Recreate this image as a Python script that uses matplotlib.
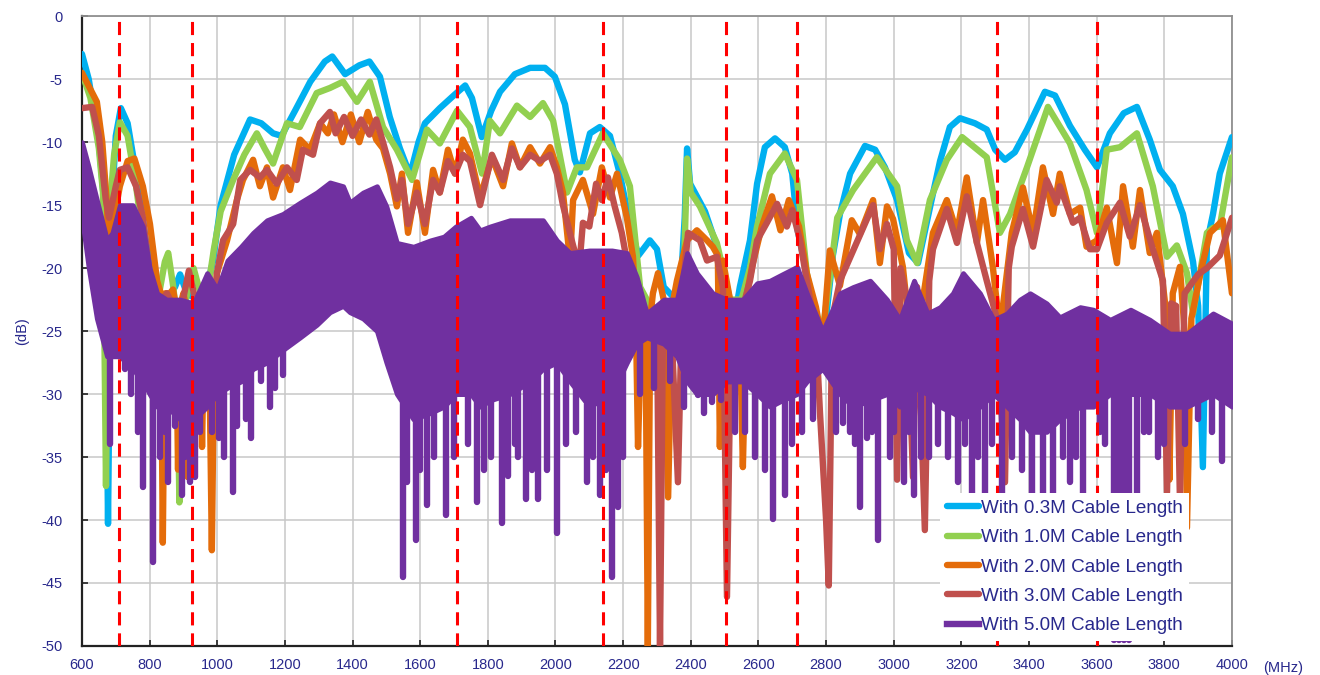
import numpy as np
import matplotlib.pyplot as plt

plt.rcParams['font.family'] = ['Liberation Sans', 'DejaVu Sans']
plt.rcParams['axes.unicode_minus'] = False

# 0.3M cable
f_03 = [600, 620, 650, 668, 677, 686, 700, 715, 735, 760, 790, 820, 850, 875, 890, 910, 940, 965,
        987, 1010, 1050, 1097, 1130, 1165, 1190, 1230, 1275, 1318, 1340, 1378, 1420, 1450, 1481,
        1510, 1540, 1570, 1595, 1614, 1658, 1703, 1733, 1753, 1782, 1810, 1836, 1880, 1925, 1969,
        1998, 2028, 2057, 2072, 2102, 2131, 2161, 2190, 2220, 2245, 2279, 2300, 2320, 2345, 2370,
        2382, 2389, 2398, 2418, 2442, 2471, 2501, 2520, 2545, 2575, 2596, 2619, 2649, 2678, 2700,
        2716, 2735, 2752, 2782, 2800, 2820, 2841, 2871, 2915, 2945, 2974, 3010, 3045, 3072, 3107,
        3137, 3166, 3196, 3240, 3275, 3300, 3329, 3358, 3394, 3447, 3477, 3521, 3565, 3601, 3639,
        3680, 3719, 3757, 3787, 3825, 3855, 3885, 3900, 3914, 3926, 3944, 3964, 4000]
db_03 = [-3, -5, -10, -15.5, -40.3, -16, -9.5, -7.3, -8.5, -12.5, -18, -22, -22.5, -21.5, -20.5, -22,
         -22.5, -22, -19.5, -15, -11, -8.2, -8.5, -9.3, -9.5, -7.5, -5.2, -3.6, -3.2, -4.6, -3.9,
         -3.6, -4.8, -8, -10.5, -12.6, -10, -8.5, -7.3, -6.2, -5.5, -6.5, -9.6, -7.5, -6, -4.6,
         -4.1, -4.1, -4.8, -7, -11.4, -12.4, -9.3, -8.8, -9.5, -12.5, -16.5, -19, -17.8, -18.5,
         -21.5, -22.2, -21.5, -16, -10.5, -13.3, -14.3, -15.5, -17.8, -21.5, -25.5, -21.5, -17.8,
         -13.3, -10.4, -9.7, -10.4, -12.5, -17, -19.4, -22.5, -25, -24, -19, -15.7, -12.5, -10.3,
         -10.6, -12, -14.6, -18.8, -19.6, -15.2, -11.5, -8.8, -8.1, -8.5, -9, -10.6, -11.4, -10.8,
         -9, -6, -6.3, -8.7, -10.6, -12, -9.3, -7.7, -7.2, -9.8, -12.2, -13.5, -15.7, -19.5, -23,
         -35.8, -18, -15.7, -12.5, -9.6]

# 1.0M cable
f_10 = [600, 625, 650, 662, 671, 680, 695, 712, 735, 760, 785, 805, 825, 845, 855, 870, 880, 888,
        896, 915, 930, 945, 965, 990, 1010, 1047, 1080, 1117, 1140, 1165, 1206, 1244, 1294, 1333,
        1372, 1413, 1451, 1490, 1531, 1576, 1620, 1658, 1709, 1747, 1783, 1806, 1836, 1886, 1925,
        1963, 1993, 2034, 2063, 2093, 2140, 2190, 2220, 2250, 2280, 2320, 2360, 2380, 2389, 2400,
        2427, 2477, 2516, 2550, 2575, 2596, 2634, 2678, 2714, 2743, 2770, 2790, 2810, 2833, 2880,
        2950, 3010, 3039, 3069, 3107, 3157, 3202, 3275, 3314, 3344, 3394, 3456, 3521, 3570, 3601,
        3630, 3669, 3719, 3766, 3808, 3837, 3867, 3885, 3926, 3944, 3964, 4000]
db_10 = [-4.5, -6.5, -10.5, -14, -37.3, -16, -11, -8.4, -9.5, -13.5, -18.5, -22, -22.5, -19.5,
         -18.8, -21.5, -24, -38.6, -24, -21.5, -20, -21.5, -23, -18.5, -15.5, -13, -11, -9.3,
         -10.5, -11.7, -8.5, -8.8, -6.1, -5.7, -5.2, -6.8, -5.2, -8.8, -10.6, -13, -9, -10.1, -7.5,
         -8.8, -12.5, -8.3, -9.3, -7.1, -8, -6.9, -8.3, -14, -12, -12, -9.3, -11.4, -13.5, -21.5,
         -23, -23.5, -23, -20, -11.3, -14, -15.1, -18, -22.5, -22.5, -20, -16.7, -12.5, -10.9, -13,
         -20.4, -24, -25, -21, -16, -13.8, -11.2, -13.5, -17.8, -19.6, -14.6, -11.4, -9.6, -11.2,
         -17.2, -15.7, -12, -7.2, -10.1, -13.8, -17.2, -10.6, -10.4, -9.3, -13.5, -19.1, -18.2,
         -20.4, -23.6, -17.2, -16.8, -16.7, -11.2]

# 2.0M cable
f_20 = [600, 625, 644, 660, 674, 683, 695, 712, 735, 755, 780, 801, 822, 833, 839, 846, 860, 869,
        878, 884, 890, 900, 907, 913, 919, 935, 949, 955, 962, 975, 984, 992, 999, 1029, 1058, 1076,
        1106, 1126, 1147, 1165, 1194, 1215, 1245, 1274, 1304, 1327, 1345, 1370, 1395, 1420, 1445,
        1470, 1490, 1511, 1531, 1546, 1564, 1590, 1614, 1638, 1658, 1682, 1703, 1726, 1747, 1777,
        1812, 1845, 1871, 1895, 1925, 1954, 1984, 2004, 2022, 2043, 2052, 2081, 2111, 2137, 2161,
        2182, 2211, 2229, 2237, 2244, 2255, 2266, 2273, 2280, 2288, 2303, 2320, 2333, 2345, 2359,
        2389, 2418, 2448, 2465, 2480, 2486, 2495, 2516, 2545, 2554, 2566, 2581, 2610, 2640, 2665,
        2690, 2720, 2743, 2770, 2790, 2811, 2841, 2876, 2900, 2939, 2959, 2980, 2998, 3027, 3048,
        3077, 3116, 3157, 3187, 3216, 3246, 3264, 3293, 3314, 3349, 3382, 3412, 3441, 3471, 3491,
        3521, 3551, 3570, 3601, 3630, 3660, 3678, 3707, 3728, 3757, 3778, 3808, 3815, 3825, 3846,
        3860, 3867, 3880, 3910, 3935, 3973, 4000]
db_20 = [-4.5, -5.8, -6.8, -10, -15, -22, -16, -13.5, -11.5, -11.3, -13.5, -16.5, -21, -22, -41.8,
         -22, -22, -21.7, -23, -36, -23, -22, -23, -36.6, -23, -22.5, -23.3, -34.2, -23, -24, -42.4,
         -24, -20.4, -17.8, -14.6, -13, -11.4, -13.5, -12, -14.4, -12, -13.8, -9.8, -10.6, -8.5,
         -9.3, -7.8, -10, -7.8, -10, -7.6, -9.8, -10.5, -12.5, -15.1, -12.5, -17.2, -13.2, -17.2,
         -12.2, -14, -10.6, -12.5, -9.8, -10.9, -14.4, -11.2, -13.5, -10.1, -12, -10.4, -11.7,
         -10.4, -12, -14, -19.4, -14.6, -13, -15.7, -12, -14.4, -12.5, -16, -19.1, -23, -34.2,
         -23.3, -24, -50, -24, -22, -20.4, -22.5, -38.2, -23, -21, -17.8, -17, -17.8, -18.3, -19,
         -34.2, -19.4, -22.5, -24.6, -35.8, -22, -19.9, -16.7, -14.3, -17, -14.6, -16.7, -20.4,
         -23.1, -26, -18.6, -21.4, -16.2, -17.3, -14.6, -19.6, -15.1, -16.1, -19.9, -25.2, -24.1,
         -17.2, -14.6, -17.2, -12.8, -18, -14.6, -19.9, -25, -17.2, -13.6, -17.2, -12, -15.7, -12.5,
         -15.7, -15.2, -18.3, -17.8, -15.2, -19.6, -13.5, -18.3, -13.8, -18.8, -17.2, -24.1, -36.8,
         -22, -19.9, -25, -40.6, -24, -20, -17.2, -16.2, -22]

# 3.0M cable
f_30 = [600, 630, 650, 670, 680, 700, 712, 735, 760, 780, 800, 822, 851, 880, 895, 916, 935, 960,
        990, 999, 1017, 1047, 1068, 1097, 1126, 1147, 1176, 1206, 1235, 1253, 1283, 1304, 1333,
        1350, 1375, 1400, 1425, 1450, 1470, 1490, 1511, 1531, 1546, 1564, 1590, 1614, 1638, 1658,
        1682, 1703, 1726, 1747, 1777, 1812, 1845, 1871, 1895, 1925, 1954, 1984, 2004, 2022, 2050,
        2070, 2081, 2100, 2120, 2137, 2155, 2175, 2196, 2225, 2250, 2280, 2300, 2309, 2318, 2340,
        2362, 2375, 2392, 2427, 2448, 2477, 2495, 2507, 2520, 2545, 2575, 2596, 2625, 2655, 2684,
        2700, 2723, 2746, 2770, 2782, 2800, 2808, 2818, 2841, 2890, 2939, 2959, 2980, 3000, 3010,
        3020, 3039, 3057, 3069, 3092, 3105, 3116, 3157, 3187, 3216, 3246, 3275, 3305, 3329, 3340,
        3349, 3382, 3412, 3452, 3482, 3491, 3530, 3551, 3580, 3601, 3630, 3669, 3698, 3728, 3766,
        3796, 3808, 3820, 3835, 3846, 3860, 3900, 3926, 3964, 4000]
db_30 = [-7.3, -7.2, -9.5, -14.5, -16, -13.5, -12.2, -12, -13.5, -16, -20.4, -23, -22, -23.5, -23,
         -20.2, -22.5, -24, -24, -20.4, -17.8, -16.5, -13, -12.2, -12.8, -12.2, -13.3, -12, -13,
         -10.6, -11, -8.5, -7.6, -9.3, -8, -9.5, -8.2, -9.4, -8.2, -10, -12, -14.5, -13, -16.5, -14,
         -16.5, -13, -14, -11.5, -12.5, -11, -11.5, -15, -11, -13, -10.5, -12, -11, -11.5, -11,
         -12.5, -15, -18, -20, -16.4, -16.7, -13.3, -14.6, -12.8, -15.1, -17.2, -21.5, -23.5, -24,
         -24, -50, -24, -23, -37, -22, -17.2, -17.8, -19.4, -19.1, -21.5, -46.1, -23, -24, -21,
         -17.8, -16.4, -14.9, -16.7, -15.4, -17.8, -21.5, -25, -31.5, -40, -45.2, -24, -21, -18,
         -15, -18.5, -16.5, -18.5, -36.8, -20, -22.5, -36.6, -21.5, -40.8, -21, -18.5, -15.3, -18,
         -14.3, -18, -21, -24, -37, -20, -18.3, -15.3, -18.3, -13, -14.8, -13.5, -16.4, -16, -18.5,
         -18.5, -16.4, -14.8, -17.5, -15, -18.5, -21, -37.8, -22.8, -23, -38.2, -22, -20.5, -20,
         -19, -16]

# 5.0M cable: dense trace drawn as upper / lower envelope plus downward spikes
f_50 = [600, 620, 644, 674, 690, 712, 750, 780, 800, 822, 850, 890, 930, 970, 1000, 1030, 1070,
        1106, 1147, 1194, 1245, 1294, 1333, 1372, 1392, 1431, 1472, 1500, 1531, 1580, 1630, 1670,
        1705, 1750, 1777, 1806, 1865, 1925, 1963, 2004, 2043, 2100, 2167, 2211, 2240, 2270, 2320,
        2359, 2389, 2418, 2465, 2507, 2554, 2596, 2634, 2670, 2714, 2743, 2790, 2841, 2880, 2930,
        2980, 3018, 3060, 3100, 3137, 3175, 3205, 3255, 3295, 3335, 3373, 3403, 3452, 3491, 3551,
        3590, 3640, 3700, 3757, 3816, 3867, 3944, 4000]
db_50_top = [-10, -12, -14.6, -17.8, -17.2, -15, -15, -16.7, -20, -22, -22.5, -22.5, -22.8, -20.4,
             -21.7, -19.4, -18.3, -17.2, -16.2, -15.7, -14.8, -14, -13.2, -13.5, -14.8, -14, -13.5,
             -15.1, -18, -18.3, -17.8, -17.5, -16.7, -16, -17, -16.7, -16.2, -16.2, -16.2, -17.8,
             -18.8, -18.6, -18.6, -18.8, -20.7, -23.6, -22.5, -22.5, -18.8, -20.4, -22, -22.5,
             -22.5, -21.2, -21, -20.5, -19.9, -22, -25, -22, -21.5, -21, -22.5, -24.1, -21, -23.6,
             -23.1, -22, -20.4, -22, -24.1, -23.6, -22.5, -22, -22.8, -23.9, -23.1, -23.3, -24.1,
             -23.3, -24.1, -25.2, -25.2, -23.6, -24.4]
db_50_low = [-16, -20, -24, -27, -27, -27, -28, -29, -30, -31, -31, -32, -32, -31, -30, -29.5, -29,
             -28, -27.5, -26.5, -25.5, -24.5, -23.5, -23, -23.5, -24, -25, -27.5, -30, -32, -31.5,
             -31, -30, -30, -31, -30.5, -30, -29, -28, -27.5, -29, -31, -30, -27.5, -26, -25.5,
             -26, -27, -29, -30, -30, -29, -29, -30, -31, -30.5, -30, -29, -28, -30, -31, -30.5,
             -30, -31, -29.5, -30, -31, -31.5, -32, -31, -30, -31, -32, -33, -33, -32, -31, -31,
             -30, -30, -30, -31, -31, -30, -31]
spike_f = [683, 727, 745, 765, 780, 810, 830, 845, 855, 875, 895, 905, 920, 934, 950, 985, 1005,
           1020, 1047, 1058, 1085, 1100, 1130, 1156, 1170, 1194, 1549, 1560, 1588, 1600, 1620,
           1640, 1676, 1700, 1740, 1768, 1790, 1810, 1842, 1860, 1880, 1890, 1913, 1930, 1948,
           1975, 2004, 2030, 2060, 2093, 2110, 2132, 2150, 2167, 2185, 2200, 2250, 2290, 2340,
           2380, 2421, 2440, 2462, 2490, 2530, 2560, 2590, 2620, 2643, 2679, 2700, 2730, 2760,
           2830, 2850, 2870, 2885, 2900, 2920, 2935, 2953, 2990, 3000, 3030, 3045, 3060, 3080,
           3105, 3130, 3160, 3190, 3210, 3230, 3250, 3270, 3290, 3320, 3350, 3380, 3410, 3440,
           3470, 3500, 3520, 3540, 3560, 3610, 3625, 3650, 3665, 3680, 3695, 3720, 3740, 3755,
           3780, 3800, 3860, 3900, 3940, 3970]
spike_db = [-34, -28, -30, -33, -37.4, -43.3, -35, -33, -37, -32.5, -38, -35, -37, -36.6, -33,
            -33, -33.5, -35, -37.8, -32.5, -32, -33.5, -29, -31, -29.5, -28.5, -44.5, -37, -41.6,
            -36, -38.8, -35, -39.6, -35, -34, -38.6, -36, -35, -40.2, -36.5, -34, -35, -38.3, -36,
            -38.3, -36, -41, -34, -33, -37, -35, -38, -36, -44.5, -39, -35, -30, -29.5, -29, -31,
            -30.1, -31.5, -30.6, -30.5, -33, -33, -35, -36, -39.9, -38, -34, -33, -32, -33, -32.3,
            -33, -34, -39, -33.5, -33, -41.6, -35, -33, -37, -33, -38, -35, -35, -34, -35, -37,
            -34, -38.5, -35, -38.2, -34, -38, -35, -36, -38.2, -38.2, -38.2, -35, -37, -35, -38.2,
            -33, -34, -49.5, -49.5, -49.5, -49.5, -38.2, -33, -33, -35, -34, -34, -32, -33, -35.3]

band_marks = [710, 925, 1710, 2140, 2505, 2715, 3305, 3600]

labels = ['With 0.3M Cable Length', 'With 1.0M Cable Length', 'With 2.0M Cable Length',
          'With 3.0M Cable Length', 'With 5.0M Cable Length']
colors = ['#00B0F0', '#92D050', '#E46C0A', '#C0504D', '#7030A0']
navy = '#28288C'

fig = plt.figure(figsize=(13.2, 6.75), dpi=100)
ax = fig.add_axes([0.0621, 0.043, 0.8712, 0.933])

lw = 4.6
series = [(f_03, db_03), (f_10, db_10), (f_20, db_20), (f_30, db_30)]
for (f, d), c, lab in zip(series, colors, labels):
    ax.plot(f, d, color=c, lw=lw, solid_joinstyle='round', solid_capstyle='round', label=lab, zorder=3)

# purple band
ax.fill_between(f_50, db_50_low, db_50_top, color=colors[4], lw=3.5, edgecolor=colors[4], zorder=4)
spike_top = np.interp(spike_f, f_50, db_50_low)
ax.vlines(spike_f, spike_db, spike_top, color=colors[4], lw=lw, capstyle='round', zorder=4)
ax.plot([], [], color=colors[4], lw=lw, label=labels[4])

for fm in band_marks:
    ax.vlines(fm, -50, -0.4, colors='#FF0000', lw=2.2, linestyles=(0, (4.3, 2.6)), zorder=6)

ax.set_xlim(600, 4000)
ax.set_ylim(-50, 0)
ax.set_xticks(np.arange(600, 4001, 200))
ax.set_yticks(np.arange(-50, 1, 5))
ax.grid(True, color='#C8C8C8', lw=1.1, zorder=0)
ax.set_axisbelow(True)
ax.tick_params(direction='in', length=4, width=1.2, color='#222222', labelcolor=navy,
               labelsize=10.5)
ax.tick_params(axis='x', pad=9)
ax.tick_params(axis='y', pad=14)
for s in ['left', 'bottom']:
    ax.spines[s].set_color('#222222')
    ax.spines[s].set_linewidth(1.6)
for s in ['top', 'right']:
    ax.spines[s].set_color('#909090')
    ax.spines[s].set_linewidth(1.3)

fig.text(0.0165, 0.51, '(dB)', rotation=90, color=navy, fontsize=10.5, ha='center', va='center')
fig.text(0.972, 0.011, '(MHz)', color=navy, fontsize=10.5, ha='center', va='center')

leg = ax.legend(loc='lower right', bbox_to_anchor=(0.963, 0.008), borderaxespad=0,
                fontsize=13.6, frameon=True, fancybox=False, handlelength=1.7, handletextpad=0.1,
                labelspacing=0.64, borderpad=0.35)
leg.get_frame().set_facecolor('white')
leg.get_frame().set_edgecolor('none')
leg.get_frame().set_alpha(1)
leg.set_zorder(10)
for t in leg.get_texts():
    t.set_color(navy)

fig.savefig('out.png', dpi=100)
